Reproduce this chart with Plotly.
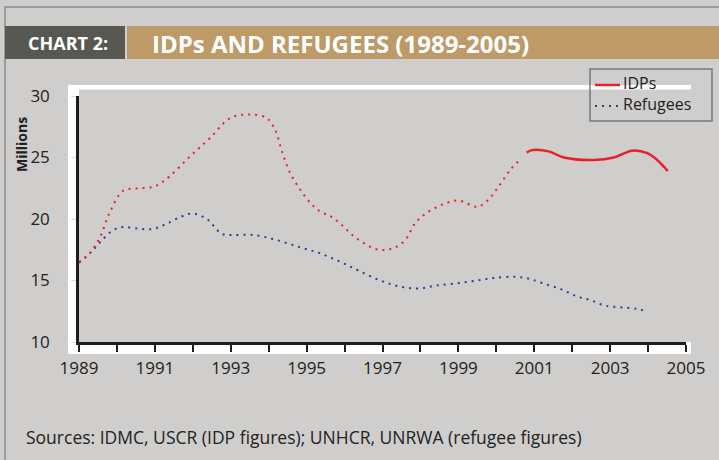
import plotly.graph_objects as go

# Values (millions)
idp_dot_years = [1989.0, 1989.25, 1989.55, 1989.82, 1990.17, 1990.6, 1991.0, 1991.4, 1991.93,
                 1992.46, 1992.98, 1993.5, 1993.95, 1994.17, 1994.35, 1994.57, 1994.83, 1995.1,
                 1995.36, 1995.7, 1996.33, 1996.9, 1997.3, 1997.6, 1997.87, 1998.17, 1998.6,
                 1999.0, 1999.5, 1999.8, 2000.06, 2000.37, 2000.65]
idp_dot_vals = [16.5, 17.1, 18.5, 20.6, 22.3, 22.5, 22.65, 23.5, 25.1,
                26.6, 28.2, 28.5, 28.2, 27.25, 25.5, 23.7, 22.4, 21.3,
                20.6, 20.1, 18.4, 17.5, 17.65, 18.3, 19.7, 20.5, 21.2,
                21.5, 21.0, 21.6, 22.65, 24.0, 24.9]

idp_solid_years = [2000.8, 2000.94, 2001.38, 2001.78, 2002.57, 2003.1, 2003.58, 2003.98, 2004.24, 2004.52]
idp_solid_vals = [25.4, 25.6, 25.5, 25.0, 24.8, 25.0, 25.55, 25.35, 24.8, 23.9]

ref_years = [1989.0, 1989.3, 1989.55, 1989.9, 1990.17, 1990.6, 1990.96, 1991.3, 1991.7, 1992.0,
             1992.37, 1992.76, 1993.07, 1993.6, 1994.2, 1994.83, 1995.36, 1995.9, 1996.37,
             1996.94, 1997.47, 1997.95, 1998.43, 1999.05, 1999.58, 1999.93, 2000.5, 2000.86,
             2001.2, 2001.7, 2002.13, 2002.48, 2002.88, 2003.36, 2003.71, 2003.93]
ref_vals = [16.45, 17.25, 18.1, 19.1, 19.35, 19.2, 19.2, 19.6, 20.2, 20.45,
            20.0, 18.8, 18.7, 18.7, 18.3, 17.7, 17.2, 16.5, 15.8,
            15.0, 14.5, 14.35, 14.6, 14.8, 15.05, 15.2, 15.3, 15.15,
            14.8, 14.3, 13.7, 13.4, 12.95, 12.8, 12.7, 12.5]

x_ticks = [1989, 1991, 1993, 1995, 1997, 1999, 2001, 2003, 2005]
y_ticks = [10, 15, 20, 25, 30]
legend_names = ['IDPs', 'Refugees']

COLORS = {
    'bg': '#cfcecc',
    'dark_box': '#585853',
    'tan': '#bd9a68',
    'red': '#e8202a',
    'blue': '#2a3f90',
    'axis': '#1e1e1e',
    'text': '#222222',
    'frame': '#8a8a8a',
}

W, H = 719, 460
L, R, T, B = 79, 33, 96, 118
PW, PH = W - L - R, H - T - B
DOTS = '2px,5px'


def px(x):
    return (x - L) / PW


def py(y):
    return (H - B - y) / PH


FONT = 'Open Sans'

fig = go.Figure()

fig.add_trace(go.Scatter(
    x=idp_solid_years, y=idp_solid_vals, name='IDPs', mode='lines',
    line=dict(color=COLORS['red'], width=2.5, shape='spline'),
))
fig.add_trace(go.Scatter(
    x=ref_years, y=ref_vals, name='Refugees', mode='lines',
    line=dict(color=COLORS['blue'], width=2, dash=DOTS, shape='spline'),
))
fig.add_trace(go.Scatter(
    x=idp_dot_years, y=idp_dot_vals, name='IDPs', mode='lines',
    line=dict(color=COLORS['red'], width=2, dash=DOTS, shape='spline'),
))


def prect(x0, y0, x1, y1, **kw):
    return dict(type='rect', xref='paper', yref='paper',
                x0=px(x0), x1=px(x1), y0=py(y1), y1=py(y0), **kw)


shapes = [
    # outer frame
    prect(5, 7, 740, 480, line=dict(color=COLORS['frame'], width=1.5),
          fillcolor='rgba(0,0,0,0)', layer='below'),
    # title bar
    prect(5, 26, 125, 59, line=dict(width=0), fillcolor=COLORS['dark_box'], layer='below'),
    prect(127, 26, 722, 59, line=dict(width=0), fillcolor=COLORS['tan'], layer='below'),
    # white backing behind the plot area
    prect(68, 85, 691, 354, line=dict(width=0), fillcolor='white', layer='below'),
    prect(79, 89.5, 691, 342, line=dict(width=0), fillcolor=COLORS['bg'], layer='below'),
    # legend box and samples
    prect(590, 69, 712, 121, line=dict(color='#777777', width=1.5), fillcolor='rgba(0,0,0,0)'),
    dict(type='line', xref='paper', yref='paper', x0=px(595), x1=px(620), y0=py(85), y1=py(85),
         line=dict(color=COLORS['red'], width=2.5)),
    dict(type='line', xref='paper', yref='paper', x0=px(595), x1=px(620), y0=py(106), y1=py(106),
         line=dict(color=COLORS['blue'], width=2, dash=DOTS)),
]

annotations = [
    dict(text='<b>CHART 2:</b>', xref='paper', yref='paper', x=px(68), y=py(43),
         xanchor='center', yanchor='middle', showarrow=False,
         font=dict(family=FONT, size=18, color='white')),
    dict(text='<b>IDPs AND REFUGEES (1989-2005)</b>', xref='paper', yref='paper', x=px(150), y=py(43),
         xanchor='left', yanchor='middle', showarrow=False,
         font=dict(family=FONT, size=24, color='white')),
    dict(text='<b>Millions</b>', xref='paper', yref='paper', x=px(21), y=py(145),
         xanchor='center', yanchor='middle', showarrow=False, textangle=-90,
         font=dict(family=FONT, size=14, color=COLORS['text'])),
    dict(text='Sources: IDMC, USCR (IDP figures); UNHCR, UNRWA (refugee figures)',
         xref='paper', yref='paper', x=px(24), y=py(437),
         xanchor='left', yanchor='middle', showarrow=False,
         font=dict(family=FONT, size=17.5, color=COLORS['text'])),
]
for name, ly in zip(legend_names, [83, 104]):
    annotations.append(dict(
        text=name, xref='paper', yref='paper', x=px(621), y=py(ly),
        xanchor='left', yanchor='middle', showarrow=False,
        font=dict(family=FONT, size=16, color=COLORS['text'])))

fig.update_layout(
    width=W, height=H,
    margin=dict(l=L, r=R, t=T, b=B),
    paper_bgcolor=COLORS['bg'],
    plot_bgcolor='rgba(0,0,0,0)',
    font=dict(family=FONT, color=COLORS['text']),
    shapes=shapes,
    annotations=annotations,
    showlegend=False,
)

fig.update_xaxes(
    range=[1989, 2005], tickvals=x_ticks, showgrid=False, zeroline=False,
    showline=True, linecolor=COLORS['axis'], linewidth=2.5,
    ticks='outside', ticklen=7, tickwidth=2, tickcolor=COLORS['axis'],
    minor=dict(dtick=1, tick0=1989, ticks='outside', ticklen=7, tickwidth=2, tickcolor=COLORS['axis']),
    tickfont=dict(family=FONT, size=17, color=COLORS['text']),
    ticklabelstandoff=2,
)
fig.update_yaxes(
    range=[10, 30], tickvals=y_ticks, showgrid=False, zeroline=False,
    showline=True, linecolor=COLORS['axis'], linewidth=2.5,
    ticks='outside', ticklen=5, tickwidth=1, tickcolor='#dddddd',
    tickfont=dict(family=FONT, size=17, color=COLORS['text']),
    ticklabelstandoff=18,
)

fig.write_html("out.html", config={'displayModeBar': False},
               post_script="document.body.style.margin='0';")
